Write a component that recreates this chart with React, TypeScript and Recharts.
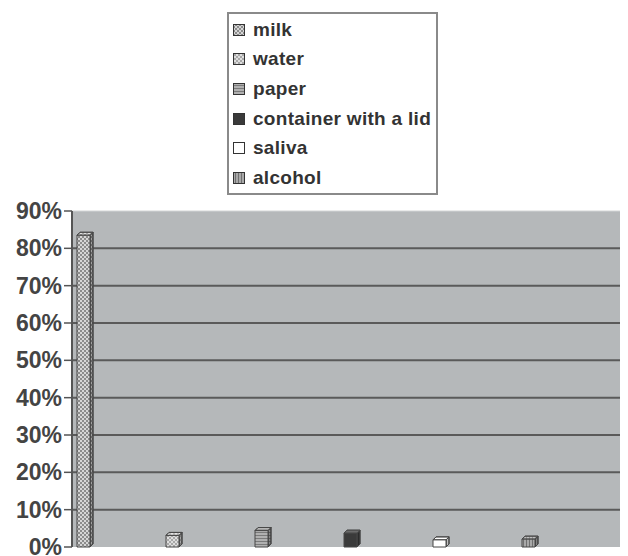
import { Bar, BarChart, CartesianGrid, Legend, ReferenceLine, XAxis, YAxis } from "recharts";

const SERIES = ["milk", "water", "paper", "container with a lid", "saliva", "alcohol"];
const VALUES = [83.5, 3.1, 4.4, 3.7, 1.9, 2.1];
const Y_TICKS = [0, 10, 20, 30, 40, 50, 60, 70, 80, 90];
const GRID_VALUES = [10, 20, 30, 40, 50, 60, 70, 80];

const FILLS = [
  "url(#pat-milk)",
  "url(#pat-water)",
  "url(#pat-paper)",
  "#3a3a3a",
  "#ffffff",
  "url(#pat-alcohol)",
];

const row: Record<string, string | number> = { name: "all" };
SERIES.forEach((s, i) => {
  row[s] = VALUES[i];
});
const data = [row];

const FONT = "Arial, 'Liberation Sans', sans-serif";
const DEPTH = 3;

function Box3D(props: any) {
  const { x, y, width: w, height: h, fill } = props;
  if (!h || h <= 0) return null;
  const d = DEPTH;
  const side = `${x + w},${y} ${x + w + d},${y - d} ${x + w + d},${y + h - d} ${x + w},${y + h}`;
  const top = `${x},${y} ${x + d},${y - d} ${x + w + d},${y - d} ${x + w},${y}`;
  return (
    <g stroke="#474747" strokeWidth={1} strokeLinejoin="round">
      <polygon points={side} fill={fill} />
      <polygon points={side} fill="rgba(0,0,0,0.25)" />
      <polygon points={top} fill={fill} />
      <polygon points={top} fill="rgba(255,255,255,0.25)" />
      <rect x={x} y={y} width={w} height={h} fill={fill} />
    </g>
  );
}

function LegendBox() {
  return (
    <div
      style={{
        border: "2px solid #8a8a8a",
        background: "#fff",
        width: 203,
        padding: "1px 0 0 4px",
        fontFamily: FONT,
        fontWeight: 700,
        fontSize: 19,
        color: "#333",
        letterSpacing: 0.3,
      }}
    >
      {SERIES.map((s, i) => (
        <div key={s} style={{ height: 29.6, display: "flex", alignItems: "center", whiteSpace: "nowrap" }}>
          <svg width={12} height={12} style={{ marginRight: 8, flexShrink: 0 }}>
            <rect x={0.5} y={0.5} width={11} height={11} fill={FILLS[i]} stroke="#333" strokeWidth={1} />
          </svg>
          <span>{s}</span>
        </div>
      ))}
    </div>
  );
}

export default function App() {
  return (
    <BarChart
      width={620}
      height={548}
      data={data}
      margin={{ top: 203, right: 4, bottom: 9, left: 0 }}
      barSize={13}
      barGap={76}
    >
      <defs>
        <pattern id="pat-milk" width={4} height={4} patternUnits="userSpaceOnUse">
          <rect width={4} height={4} fill="#8c8c8c" />
          <rect width={2} height={2} fill="#d6d6d6" />
          <rect x={2} y={2} width={2} height={2} fill="#d6d6d6" />
        </pattern>
        <pattern id="pat-water" width={4} height={4} patternUnits="userSpaceOnUse">
          <rect width={4} height={4} fill="#dedede" />
          <path d="M0,0 L4,4 M4,0 L0,4" stroke="#9a9a9a" strokeWidth={0.8} />
        </pattern>
        <pattern id="pat-paper" width={3} height={3} patternUnits="userSpaceOnUse">
          <rect width={3} height={3} fill="#b0b0b0" />
          <rect y={2} width={3} height={1} fill="#7a7a7a" />
        </pattern>
        <pattern id="pat-alcohol" width={3} height={3} patternUnits="userSpaceOnUse">
          <rect width={3} height={3} fill="#a8a8a8" />
          <rect x={2} width={1} height={3} fill="#707070" />
        </pattern>
      </defs>
      <CartesianGrid
        vertical={false}
        horizontalValues={GRID_VALUES}
        stroke="#5a5a5a"
        strokeWidth={2}
        fill="#b5b8ba"
        fillOpacity={1}
      />
      <ReferenceLine y={90} stroke="#d2d4d5" strokeWidth={1} />
      <XAxis
        dataKey="name"
        tick={false}
        tickLine={false}
        height={0}
        padding={{ left: 0, right: 84 }}
        axisLine={{ stroke: "#555", strokeWidth: 2 }}
      />
      <YAxis
        type="number"
        domain={[0, 90]}
        ticks={Y_TICKS}
        interval={0}
        width={64}
        tickFormatter={(v: number) => `${v}%`}
        tick={{ fill: "#444", fontSize: 23, fontWeight: 700, fontFamily: FONT }}
        tickSize={8}
        axisLine={{ stroke: "#555", strokeWidth: 2 }}
        tickLine={{ stroke: "#555", strokeWidth: 1.5 }}
      />
      <Legend
        layout="vertical"
        align="center"
        verticalAlign="middle"
        content={() => <LegendBox />}
        wrapperStyle={{ position: "absolute", left: 219, top: 4, width: "auto" }}
      />
      {SERIES.map((s, i) => (
        <Bar key={s} dataKey={s} fill={FILLS[i]} shape={<Box3D />} isAnimationActive={false} />
      ))}
    </BarChart>
  );
}
